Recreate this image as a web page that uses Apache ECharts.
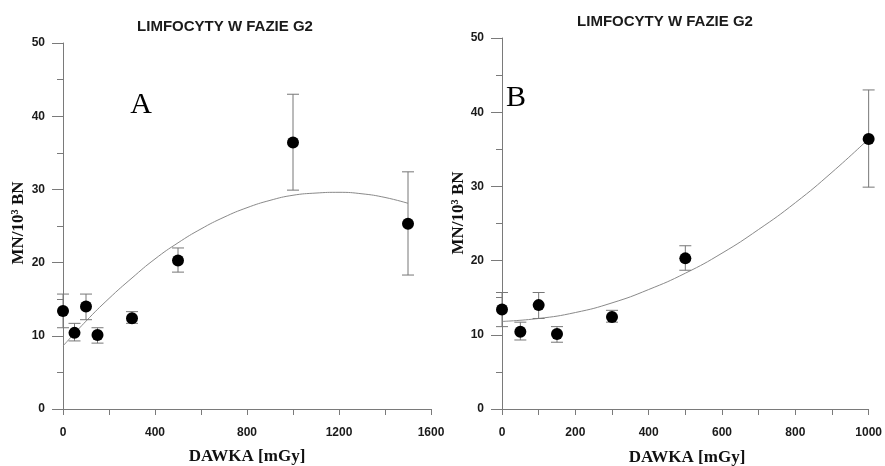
<!DOCTYPE html>
<html><head><meta charset="utf-8">
<script src="https://cdn.jsdelivr.net/npm/echarts@6/dist/echarts.min.js"></script>
<style>html,body{margin:0;padding:0;background:#fff}#c{width:885px;height:466px}</style>
</head><body><div id="c"></div>
<script>
// ---- data ----
const titleText = 'LIMFOCYTY W FAZIE G2';
const xName = 'DAWKA [mGy]';
const yName = 'MN/10³ BN';
const doseA = [0, 50, 100, 150, 300, 500, 1000, 1500];
const meanA = [13.4, 10.4, 14.0, 10.1, 12.4, 20.3, 36.4, 25.3];
const lowA  = [11.1, 9.3, 12.2, 9.0, 11.7, 18.7, 29.9, 18.3];
const highA = [15.7, 11.7, 15.7, 11.1, 13.3, 22.0, 43.0, 32.4];
const doseB = [0, 50, 100, 150, 300, 500, 1000];
const meanB = [13.4, 10.4, 14.0, 10.1, 12.4, 20.3, 36.4];
const lowB  = [11.1, 9.3, 12.2, 9.0, 11.7, 18.7, 29.9];
const highB = [15.7, 11.7, 15.7, 11.1, 13.3, 22.0, 43.0];
const fitDoseA = [0,100,200,300,400,500,600,700,800,900,1000,1100,1200,1300,1400,1500];
const fitA = [8.6,12.0,15.1,17.9,20.5,22.7,24.6,26.2,27.5,28.5,29.2,29.5,29.6,29.4,28.9,28.1];
const fitDoseB = [0,100,200,300,400,500,600,700,800,900,1000];
const fitB = [11.8,12.2,13.0,14.3,16.1,18.3,21.0,24.2,27.8,31.9,36.4];
const xTicksA = [0, 400, 800, 1200, 1600];
const xTicksB = [0, 200, 400, 600, 800, 1000];
const yTicks = [0, 10, 20, 30, 40, 50];

const axisGray = '#7a7a7a';
const sans = "'Liberation Sans', Arial, sans-serif";
const serif = "'Liberation Serif', 'Times New Roman', serif";

function xAxisDef(idx, ticks){
  return {
    gridIndex: idx, type: 'value', min: ticks[0], max: ticks[ticks.length-1],
    interval: ticks[1]-ticks[0],
    axisLine: {show: true, onZero: false, lineStyle: {color: axisGray, width: 1}},
    axisTick: {show: true, length: 6, lineStyle: {color: axisGray}},
    minorTick: {show: true, splitNumber: 2, length: 6, lineStyle: {color: axisGray}},
    splitLine: {show: false}, minorSplitLine: {show: false},
    axisLabel: {margin: 18, color: '#1a1a1a', fontWeight: 'bold', fontSize: 12, fontFamily: sans,
      formatter: v => ticks.includes(v) ? String(v) : ''}
  };
}
function yAxisDef(idx){
  return {
    gridIndex: idx, type: 'value', min: yTicks[0], max: yTicks[yTicks.length-1], interval: 10,
    axisLine: {show: true, onZero: false, lineStyle: {color: axisGray, width: 1}},
    axisTick: {show: true, length: 11, lineStyle: {color: axisGray}},
    minorTick: {show: true, splitNumber: 2, length: 6, lineStyle: {color: axisGray}},
    splitLine: {show: false}, minorSplitLine: {show: false},
    axisLabel: {margin: 18, color: '#1a1a1a', fontWeight: 'bold', fontSize: 12, fontFamily: sans}
  };
}
function errSeries(idx, dose, low, high){
  return {
    type: 'custom', xAxisIndex: idx, yAxisIndex: idx, z: 3,
    data: dose.map((d,i)=>[d, low[i], high[i]]),
    renderItem: function(params, api){
      const lo = api.coord([api.value(0), api.value(1)]);
      const hi = api.coord([api.value(0), api.value(2)]);
      const w = 6;
      const st = {stroke: '#777', lineWidth: 1, fill: null};
      return {type: 'group', children: [
        {type: 'line', shape: {x1: lo[0], y1: lo[1], x2: hi[0], y2: hi[1]}, style: st},
        {type: 'line', shape: {x1: lo[0]-w, y1: lo[1], x2: lo[0]+w, y2: lo[1]}, style: st},
        {type: 'line', shape: {x1: hi[0]-w, y1: hi[1], x2: hi[0]+w, y2: hi[1]}, style: st}
      ]};
    }
  };
}
function fitSeries(idx, dose, vals){
  return {type: 'line', xAxisIndex: idx, yAxisIndex: idx, smooth: true, showSymbol: false, z: 2,
    lineStyle: {color: '#8a8a8a', width: 1}, data: dose.map((d,i)=>[d, vals[i]]), silent: true};
}
function ptSeries(idx, dose, vals){
  return {type: 'scatter', xAxisIndex: idx, yAxisIndex: idx, symbol: 'circle', symbolSize: 12, z: 4,
    itemStyle: {color: '#000', opacity: 1}, data: dose.map((d,i)=>[d, vals[i]])};
}

const chart = echarts.init(document.getElementById('c'), null, {renderer: 'canvas'});
chart.setOption({
  backgroundColor: '#fff',
  animation: false,
  grid: [
    {left: 63, top: 43, width: 368, height: 366},
    {left: 502, top: 38, width: 370, height: 371}
  ],
  xAxis: [xAxisDef(0, xTicksA), xAxisDef(1, xTicksB)],
  yAxis: [yAxisDef(0), yAxisDef(1)],
  series: [
    fitSeries(0, fitDoseA, fitA), errSeries(0, doseA, lowA, highA), ptSeries(0, doseA, meanA),
    fitSeries(1, fitDoseB, fitB), errSeries(1, doseB, lowB, highB), ptSeries(1, doseB, meanB)
  ],
  graphic: [
    {type: 'text', x: 225, y: 27, style: {text: titleText, font: 'bold 15px ' + sans, fill: '#1a1a1a', textAlign: 'center', textVerticalAlign: 'middle'}},
    {type: 'text', x: 665, y: 22, style: {text: titleText, font: 'bold 15px ' + sans, fill: '#1a1a1a', textAlign: 'center', textVerticalAlign: 'middle'}},
    {type: 'text', x: 247, y: 457, style: {text: xName, font: 'bold 17px ' + serif, fill: '#111', textAlign: 'center', textVerticalAlign: 'middle'}},
    {type: 'text', x: 687, y: 458, style: {text: xName, font: 'bold 17px ' + serif, fill: '#111', textAlign: 'center', textVerticalAlign: 'middle'}},
    {type: 'text', x: 19, y: 223, rotation: Math.PI/2, style: {text: yName, font: 'bold 17px ' + serif, fill: '#111', textAlign: 'center', textVerticalAlign: 'middle'}},
    {type: 'text', x: 459, y: 213, rotation: Math.PI/2, style: {text: yName, font: 'bold 17px ' + serif, fill: '#111', textAlign: 'center', textVerticalAlign: 'middle'}},
    {type: 'text', x: 141, y: 105, style: {text: 'A', font: '30px ' + serif, fill: '#000', textAlign: 'center', textVerticalAlign: 'middle'}},
    {type: 'text', x: 516, y: 98, z: 10, style: {text: 'B', font: '30px ' + serif, fill: '#000', textAlign: 'center', textVerticalAlign: 'middle'}},
    {type: 'rect', z: 100, shape: {x: 504, y: 107, width: 28, height: 12}, style: {fill: '#fff'}}
  ]
});
</script>
</body></html>
